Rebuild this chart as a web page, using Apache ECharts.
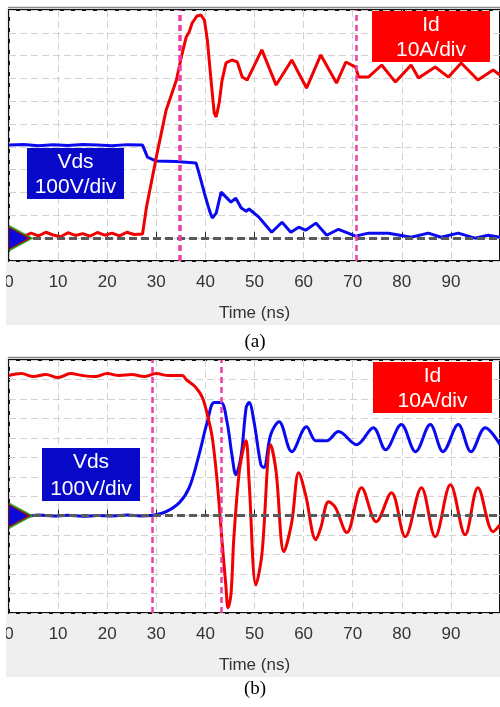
<!DOCTYPE html>
<html><head><meta charset="utf-8">
<script src="https://cdn.jsdelivr.net/npm/echarts@6/dist/echarts.min.js"></script>
<style>html,body{margin:0;padding:0;background:#fff}#c{width:500px;height:707px}</style>
</head><body><div id="c"></div>
<script>
// ---------- (a) turn-on ----------
const aIdTime = [0,1.5,3,4.5,6,7.5,9,10.5,12,13.5,15,16.5,18,19.5,21,22.5,24,25.5,27.2,28.0,30.0,32.0,34.1,35.1,36.1,36.7,37.3,38.3,39.1,39.8,40.4,41.2,41.8,42.2,42.8,43.4,44.2,45.4,46.5,47.5,48.5,51.5,54.4,57.6,60.6,63.5,66.7,68.6,70.6,71.2,73.2,75.9,78.7,81.9,83.4,86.8,89.5,92.1,95.5,98.6,100];
const aId     = [1.5,2.8,0.8,2.2,1.0,2.6,1.4,0.6,2.4,1.2,2.0,0.9,2.5,1.3,2.2,1.0,2.6,1.6,1.8,13.6,35.5,56.1,69.3,79.4,88.2,90.4,94.3,97.4,97.8,95.6,86.8,68.0,54.8,53.1,59.2,69.3,76.8,78.1,77.2,70.6,69.3,82.5,67.1,78.1,65.8,80.3,68.0,77.2,75.0,70.6,70.6,75.9,68.4,75.9,70.2,75.0,70.6,76.8,69.3,73.7,71.5];
const aVdsTime = [0,3,6,9,12,15,18,21,24,27.2,28.2,30.0,34.0,38.1,38.7,39.8,40.8,41.4,42.2,43.2,44.2,45.2,46.2,47.3,48.3,48.9,50.9,53.5,55.6,57.4,59.0,60.4,62.5,64.7,67.1,70.6,73.2,77.3,81.9,85.4,88.0,91.5,94.9,97.6,100];
const aVds     = [408,411,405,409,406,411,408,405,410,408,355,338,336,329,285,197,123,88,110,202,180,158,175,132,118,128,92,26,70,26,48,35,66,13,39,9,22,22,4,22,4,22,0,13,4];
// ---------- (b) turn-off ----------
const bIdTime = [0,2.5,5,7.5,10,12.5,15,17.5,20,22.5,25,27.5,30,32.5,35.3,36.1,38.1,39.4,40.4,41.4,42.4,43.4,44.2,44.6,45.2,45.8,46.9,47.9,48.3,48.9,50.3,51.5,53.3,54.4,56.0,57.6,59.0,60.4,62.5,63.5,65.1,66.5,68.8,71.8,74.8,77.9,80.7,84.0,86.8,89.9,92.9,95.5,98.6,100];
const bId     = [72,73,71.5,72.5,71,73,72,71.5,73,72,72.5,71.5,73,72,72,69.9,65.8,60.6,51.9,40.1,17.5,-13.4,-37.0,-47.3,-40.6,-11.3,22.6,36.5,38.5,17.5,-35.5,-20.0,36.5,22.6,-18.5,-3.1,22.1,10.8,-12.3,-6.2,7.2,4.1,-8.7,14.4,-3.1,11.8,-10.8,14.4,-10.8,15.9,-9.8,14.4,-8.2,-4.6];
const bVdsTime = [0,3,6,9,12,15,18,21,24,27,29.2,32.0,34.7,36.7,38.7,40.4,41.8,43.2,44.4,45.4,46.2,47.3,48.3,48.9,49.9,51.3,51.9,53.3,55.0,57.6,60.6,62.5,64.7,67.1,70.8,74.2,76.7,79.9,82.8,85.8,88.4,91.5,94.1,97.0,100];
const bVds     = [2,-3,3,-2,2,-3,1,-2,3,-1,2,21,67,144,313,483,581,581,483,313,211,313,555,581,483,262,247,416,483,329,457,385,385,432,365,452,339,468,329,468,329,468,329,452,365];
// cursors (ns)
const aCursors = [34.7, 70.8];
const bCursors = [29.2, 43.2];
const xTickLabels = ['0','10','20','30','40','50','60','70','80','90'];

const zip = (t, v) => t.map((x, i) => [x, v[i]]);
const FONT = '"Liberation Sans", Arial, sans-serif';
const ARROW = 'path://M0,0 L10,5 L0,10 Z';

function xAxisFor(gi) {
  return {
    gridIndex: gi, type: 'value', min: 0, max: 100, interval: 10,
    axisLine: { show: false },
    axisTick: { show: true, inside: true, length: 6, lineStyle: { color: '#222', width: 1 } },
    axisLabel: { show: true, fontSize: 17, color: '#333', fontFamily: FONT, margin: 13, showMaxLabel: false,
      formatter: v => xTickLabels[Math.round(v / 10)] || '' },
    splitLine: { show: true, lineStyle: { color: '#d2d2d2', width: 1, type: [7, 4] } },
    name: 'Time (ns)', nameLocation: 'middle', nameGap: 44,
    nameTextStyle: { fontSize: 17, color: '#333', fontFamily: FONT }
  };
}
function yGridAxis(gi, mn, mx) {
  return {
    gridIndex: gi, type: 'value', min: mn, max: mx, interval: 100,
    axisLine: { show: false }, axisTick: { show: false }, axisLabel: { show: false },
    splitLine: { show: true, lineStyle: { color: '#d2d2d2', width: 1, type: [7, 4] } }
  };
}
function yHidden(gi, mn, mx) {
  return { gridIndex: gi, type: 'value', min: mn, max: mx, interval: 10, show: false };
}
function markers() {
  return {
    silent: true,
    label: { show: false },
    data: [
      { coord: [0, 0], symbol: ARROW, symbolKeepAspect: false, symbolSize: [24, 26], symbolOffset: [12, 0], itemStyle: { color: '#1fbf1f', borderColor: '#117711', borderWidth: 0.5 } },
      { coord: [0, 0], symbol: ARROW, symbolKeepAspect: false, symbolSize: [22, 23], symbolOffset: [10.5, 0], itemStyle: { color: '#d80000', borderColor: '#800000', borderWidth: 0.5 } },
      { coord: [0, 0], symbol: ARROW, symbolKeepAspect: false, symbolSize: [19, 21], symbolOffset: [9.5, 0], itemStyle: { color: '#0a0ad8' } }
    ]
  };
}
function baselineSeries(xi, yi) {
  return {
    type: 'line', xAxisIndex: xi, yAxisIndex: yi, data: [], z: 1, silent: true,
    markLine: { silent: true, symbol: ['none', 'none'], label: { show: false },
      lineStyle: { color: '#5a5a5a', width: 3, type: [8, 4] }, data: [{ yAxis: 0 }] }
  };
}
function cursorSeries(xi, yi, cur, widths) {
  return {
    type: 'line', xAxisIndex: xi, yAxisIndex: yi, data: [], z: 6, silent: true,
    markLine: { silent: true, symbol: ['none', 'none'], label: { show: false },
      data: cur.map((c, i) => ({ xAxis: c, lineStyle: { color: '#ee3fa8', width: widths[i], type: [6, 4] } })) },
    markPoint: markers()
  };
}
function trace(xi, yi, data, color, z, smooth) {
  return { type: 'line', xAxisIndex: xi, yAxisIndex: yi, data, showSymbol: false, smooth,
    lineStyle: { color, width: 3 }, itemStyle: { color }, z, silent: true };
}
function box(x, y, w, h, fill, l1, l2) {
  const cx = x + w / 2;
  return [
    { type: 'rect', z: 100, shape: { x, y, width: w, height: h }, style: { fill } },
    { type: 'text', z: 101, x: cx, y: y + h * 0.27, style: { text: l1, fill: '#fff', fontSize: 21, fontFamily: FONT, align: 'center', verticalAlign: 'middle' } },
    { type: 'text', z: 101, x: cx, y: y + h * 0.77, style: { text: l2, fill: '#fff', fontSize: 21, fontFamily: FONT, align: 'center', verticalAlign: 'middle' } }
  ];
}

const chart = echarts.init(document.getElementById('c'), null, { renderer: 'canvas' });
chart.setOption({
  animation: false,
  backgroundColor: '#fff',
  grid: [
    { left: 9, top: 10, width: 493, height: 251, show: true, backgroundColor: '#fff', borderColor: '#111', borderWidth: 2 },
    { left: 9, top: 360, width: 493, height: 253, show: true, backgroundColor: '#fff', borderColor: '#111', borderWidth: 2 }
  ],
  xAxis: [xAxisFor(0), xAxisFor(1)],
  yAxis: [yGridAxis(0, -100, 1000), yHidden(0, -10, 100), yGridAxis(1, -500, 800), yHidden(1, -50, 80)],
  series: [
    baselineSeries(0, 0),
    trace(0, 0, zip(aVdsTime, aVds), '#0a0af0', 3, false),
    trace(0, 1, zip(aIdTime, aId), '#f00000', 4, false),
    cursorSeries(0, 0, aCursors, [3.5, 2.5]),
    baselineSeries(1, 2),
    trace(1, 2, zip(bVdsTime, bVds), '#0a0af0', 3, 0.35),
    trace(1, 3, zip(bIdTime, bId), '#f00000', 4, 0.35),
    cursorSeries(1, 2, bCursors, [2.5, 2.5])
  ],
  graphic: [
    { type: 'rect', z: -5, shape: { x: 6, y: 8, width: 494, height: 317 }, style: { fill: '#efefef' } },
    { type: 'rect', z: -5, shape: { x: 6, y: 357, width: 494, height: 320 }, style: { fill: '#efefef' } },
    { type: 'line', z: 50, shape: { x1: 8, y1: 7.5, x2: 500, y2: 7.5 }, style: { stroke: '#888', lineWidth: 1.5 } },
    { type: 'line', z: 50, shape: { x1: 8, y1: 357.5, x2: 500, y2: 357.5 }, style: { stroke: '#888', lineWidth: 1.5 } },
    ...box(27, 148, 97, 51, '#0808c8', 'Vds', '100V/div'),
    ...box(372, 11, 118, 51, '#ff0000', 'Id', '10A/div'),
    ...box(42, 448, 98, 53, '#0808c8', 'Vds', '100V/div'),
    ...box(373, 362, 119, 51, '#ff0000', 'Id', '10A/div'),
    { type: 'text', z: 100, x: 255, y: 342, style: { text: '(a)', fill: '#000', fontSize: 19, fontFamily: '"Liberation Serif", "Times New Roman", serif', align: 'center', verticalAlign: 'middle' } },
    { type: 'text', z: 100, x: 255, y: 689, style: { text: '(b)', fill: '#000', fontSize: 19, fontFamily: '"Liberation Serif", "Times New Roman", serif', align: 'center', verticalAlign: 'middle' } },
    { type: 'rect', z: 200, shape: { x: 0, y: 0, width: 6, height: 707 }, style: { fill: '#fff' } }
  ]
});
</script>
</body></html>
